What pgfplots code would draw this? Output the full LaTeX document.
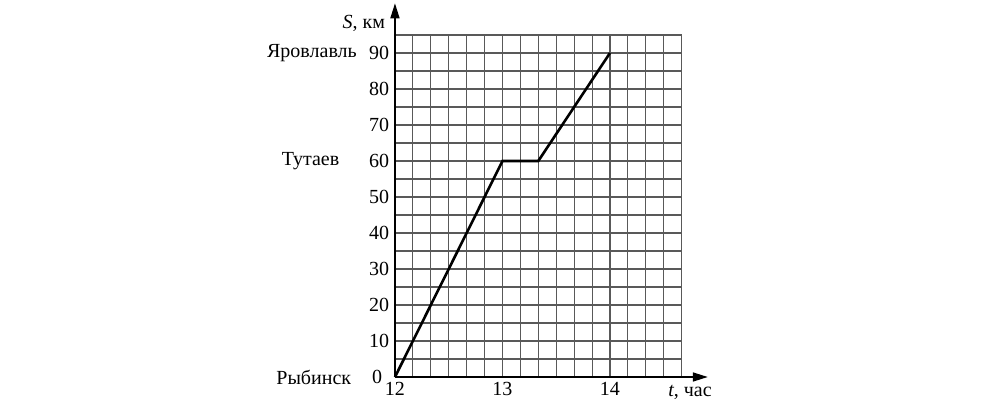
\documentclass[border=0pt]{standalone}
\usepackage{fontspec}
\setmainfont{Liberation Serif}
\usepackage{pgfplots}
\pgfplotsset{compat=1.18}
\usetikzlibrary{arrows.meta}
\begin{document}
\fontsize{20}{24}\selectfont
\begin{tikzpicture}
\begin{axis}[
    x=107.5pt, y=3.6pt,
    xmin=12, xmax=14.66667, ymin=0, ymax=95,
    axis lines=left,
    axis line style={line width=1.5pt, -},
    xtick={12,13,14}, ytick={10,20,...,90},
    extra y ticks={0},
    extra y tick style={grid=none, yticklabel style={xshift=-7pt}},
    minor xtick={12.16667,12.33333,12.5,12.66667,12.83333,13.16667,13.33333,13.5,13.66667,13.83333,14.16667,14.33333,14.5,14.66667},
    minor ytick={5,15,...,95},
    grid=both,
    major grid style={black!65, line width=1.1pt},
    minor grid style={black!65, line width=1.1pt},
    major tick length=0pt, minor tick length=0pt,
    tick label style={font=\fontsize{20}{24}\selectfont},
    xticklabel style={yshift=2pt},
    yticklabel style={xshift=1pt},
    /pgf/number format/assume math mode=true,
    clip=false,
]
\addplot[black, line width=2.6pt, line join=miter] coordinates {
(12,0) (13,60) (13.33333,60) (14,90)
};
\draw[line width=1.6pt, -{Triangle[length=15pt, width=9pt]}] (axis cs:12,0) -- (axis cs:14.91,0);
\draw[line width=1.6pt, -{Triangle[length=15pt, width=9pt]}] (axis cs:12,0) -- (axis cs:12,103.8);
\node at (axis cs:11.228,90) {Яровлавль};
\node at (axis cs:11.215,60) {Тутаев};
\node at (axis cs:11.245,0) {Рыбинск};
\node at (axis cs:11.71,98.1) {\textit{S}, км};
\node at (axis cs:14.745,-4.2) {\textit{t}, час};
\coordinate (bl) at (axis cs:8.326,-6.389);
\coordinate (tr) at (axis cs:17.628,104.72);
\end{axis}
\path[use as bounding box] (bl) rectangle (tr);
\end{tikzpicture}
\end{document}
